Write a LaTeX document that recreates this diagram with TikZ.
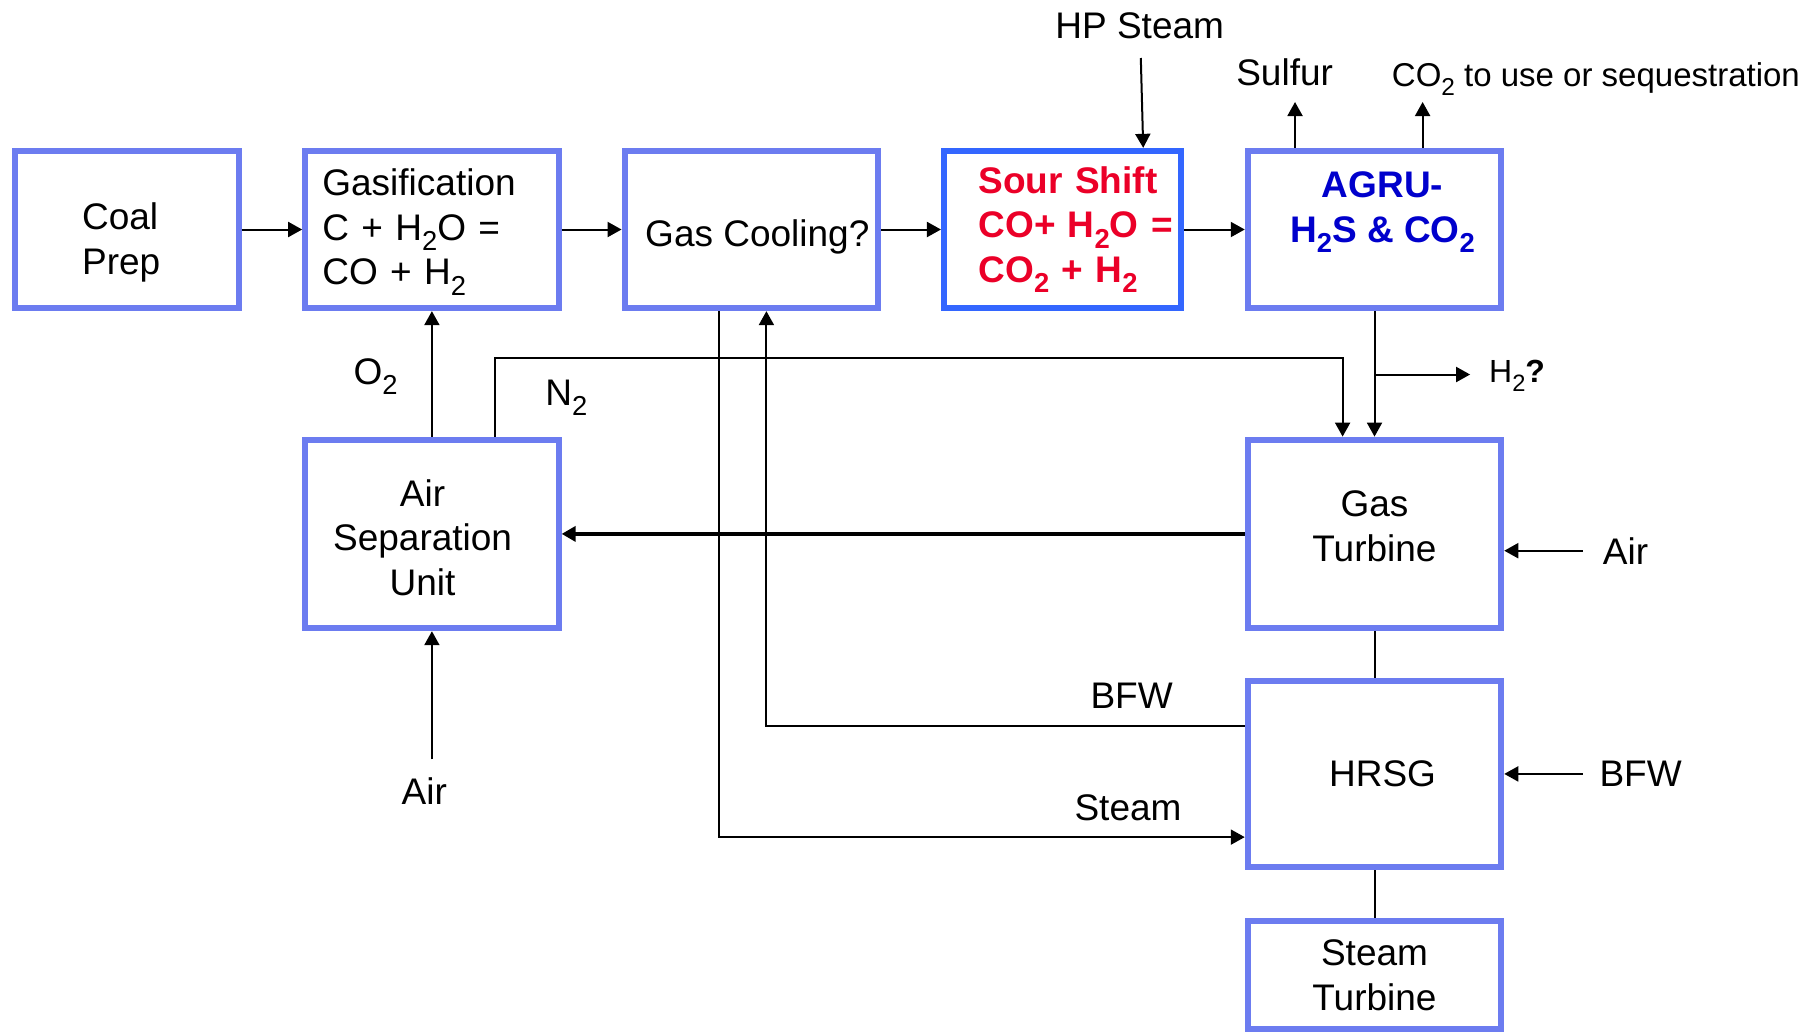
\documentclass[tikz,border=0pt]{standalone}
\usepackage{fontspec}
\setmainfont{Liberation Sans}
\usepackage{tikz}
\usetikzlibrary{arrows.meta}
\definecolor{boxblue}{RGB}{108,124,240}
\definecolor{shiftblue}{RGB}{51,102,255}
\definecolor{shiftred}{RGB}{235,0,40}
\definecolor{agrublue}{RGB}{0,0,204}
\newcommand{\boxfont}{\fontsize{18.5}{22.3}\selectfont}
\newcommand{\sbs}[1]{\raisebox{-0.28em}{\scalebox{0.74}{#1}}}

\begin{document}
\begin{tikzpicture}[x=0.5pt,y=-0.5pt]
\tikzstyle{every node}=[font=\boxfont]
\tikzstyle{unit}=[draw=boxblue, line width=3pt, minimum width=126.75pt, minimum height=78.65pt, align=center]
\tikzstyle{flow}=[line width=1pt, -{Triangle[length=7pt,width=7.5pt]}]
\useasboundingbox (0,0) rectangle (1818,1035);
\node[unit, minimum width=111.7pt, align=left] (coal) at (127,229.5) {\mbox{}\\[4pt]Coal\\Prep\hspace*{5.8pt}};
\node[unit, align=left, text width=109.55pt, inner xsep=8.6pt] (gasif) at (431.9,229.5) {\mbox{}\\[-6.5pt]Gasification\\C + H\sbs{2}O =\\CO + H\sbs{2}};
\node[unit] (cool) at (751.3,229.5) {\mbox{}\\[-1.8pt]\hspace*{6pt}Gas Cooling?};
\node[unit, draw=shiftblue, minimum width=118.65pt, align=left, text width=84.05pt, inner xsep=17.3pt, text=shiftred, font=\boxfont\bfseries] (shift) at (1062.6,229.5) {\mbox{Sour Shift}\\\mbox{CO+ H\sbs{2}O =}\\\mbox{CO\sbs{2} + H\sbs{2}}};
\node[unit, text=agrublue, font=\boxfont\bfseries] (agru) at (1374.5,229.5) {\hspace*{8pt}AGRU-\\\hspace*{8pt}H\sbs{2}S \& CO\sbs{2}\\\mbox{}};
\node[unit, minimum height=94.3pt] (asu) at (431.9,533.9) {\mbox{}\\[-5.3pt]\hspace*{-9.3pt}Air\\\hspace*{-9.3pt}Separation\\\hspace*{-9.3pt}Unit};
\node[unit, minimum height=94.3pt] (gt) at (1374.5,533.9) {Gas\\Turbine\\[-14.3pt]\mbox{}};
\node[unit, minimum height=93.15pt] (hrsg) at (1374.5,773.9) {\hspace*{8pt}HRSG};
\node[unit, minimum height=54.3pt] (st) at (1374.5,975) {Steam\\Turbine};
\node (hplbl) at (1139.7,25.5) {HP Steam};
\node (sulflbl) at (1284.6,71.9) {Sulfur};
\node[font=\fontsize{16.5}{20}\selectfont] (co2lbl) at (1595.9,78.8) {CO\sbs{2} to use or sequestration};
\node[font=\fontsize{16}{19}\selectfont] (h2lbl) at (1517.1,375.6) {H\sbs{2}\textbf{?}};
\node (o2lbl) at (375.6,376.8) {O\sbs{2}};
\node (n2lbl) at (566.4,397.7) {N\sbs{2}};
\node (airblbl) at (424.3,790.7) {Air};
\node (airrlbl) at (1625.5,550.7) {Air};
\node (bfwrlbl) at (1640.6,773.3) {BFW};
\node (bfwllbl) at (1131.6,695.6) {BFW};
\node (stmlbl) at (1128,808.1) {Steam};
\coordinate (hp) at (1140.8,58);
\coordinate (sulf) at (1295,102);
\coordinate (co2) at (1422.6,102);
\coordinate (h2j) at (1374.5,374.5);
\coordinate (h2e) at (1470.1,374.5);
\coordinate (n2) at (1342.6,358.3);
\coordinate (airb) at (431.9,759.4);
\coordinate (airr) at (1582.6,550.7);
\coordinate (bfwr) at (1582.6,773.9);
\coordinate (bfwl) at (766.4,725.8);
\coordinate (stm) at (718.8,837.1);
\draw[flow] (coal) -- (gasif);
\draw[flow] (gasif) -- (cool);
\draw[flow] (cool) -- (shift);
\draw[flow] (shift) -- (agru);
\draw[flow] (hp) -- ([xshift=40.3pt]shift.north);
\draw[flow] (agru.north -| sulf) -- (sulf);
\draw[flow] (agru.north -| co2) -- (co2);
\draw[flow] (agru) -- (gt);
\draw[flow] (h2j) -- (h2e);
\draw[flow] (asu) -- (gasif);
\draw[flow] ([xshift=31.6pt]asu.north) |- (n2) -- (n2 |- gt.north);
\draw[flow, line width=1.8pt] (gt) -- (asu);
\draw[flow] (airb) -- (asu);
\draw[flow] (airr) -- (gt.east |- airr);
\draw[line width=1pt] (gt) -- (hrsg);
\draw[line width=1pt] (hrsg) -- (st);
\draw[flow] (bfwr) -- (hrsg);
\draw[flow] (hrsg.west |- bfwl) -| (bfwl |- cool.south);
\draw[flow] (stm |- cool.south) |- (hrsg.west |- stm);
\end{tikzpicture}
\end{document}
